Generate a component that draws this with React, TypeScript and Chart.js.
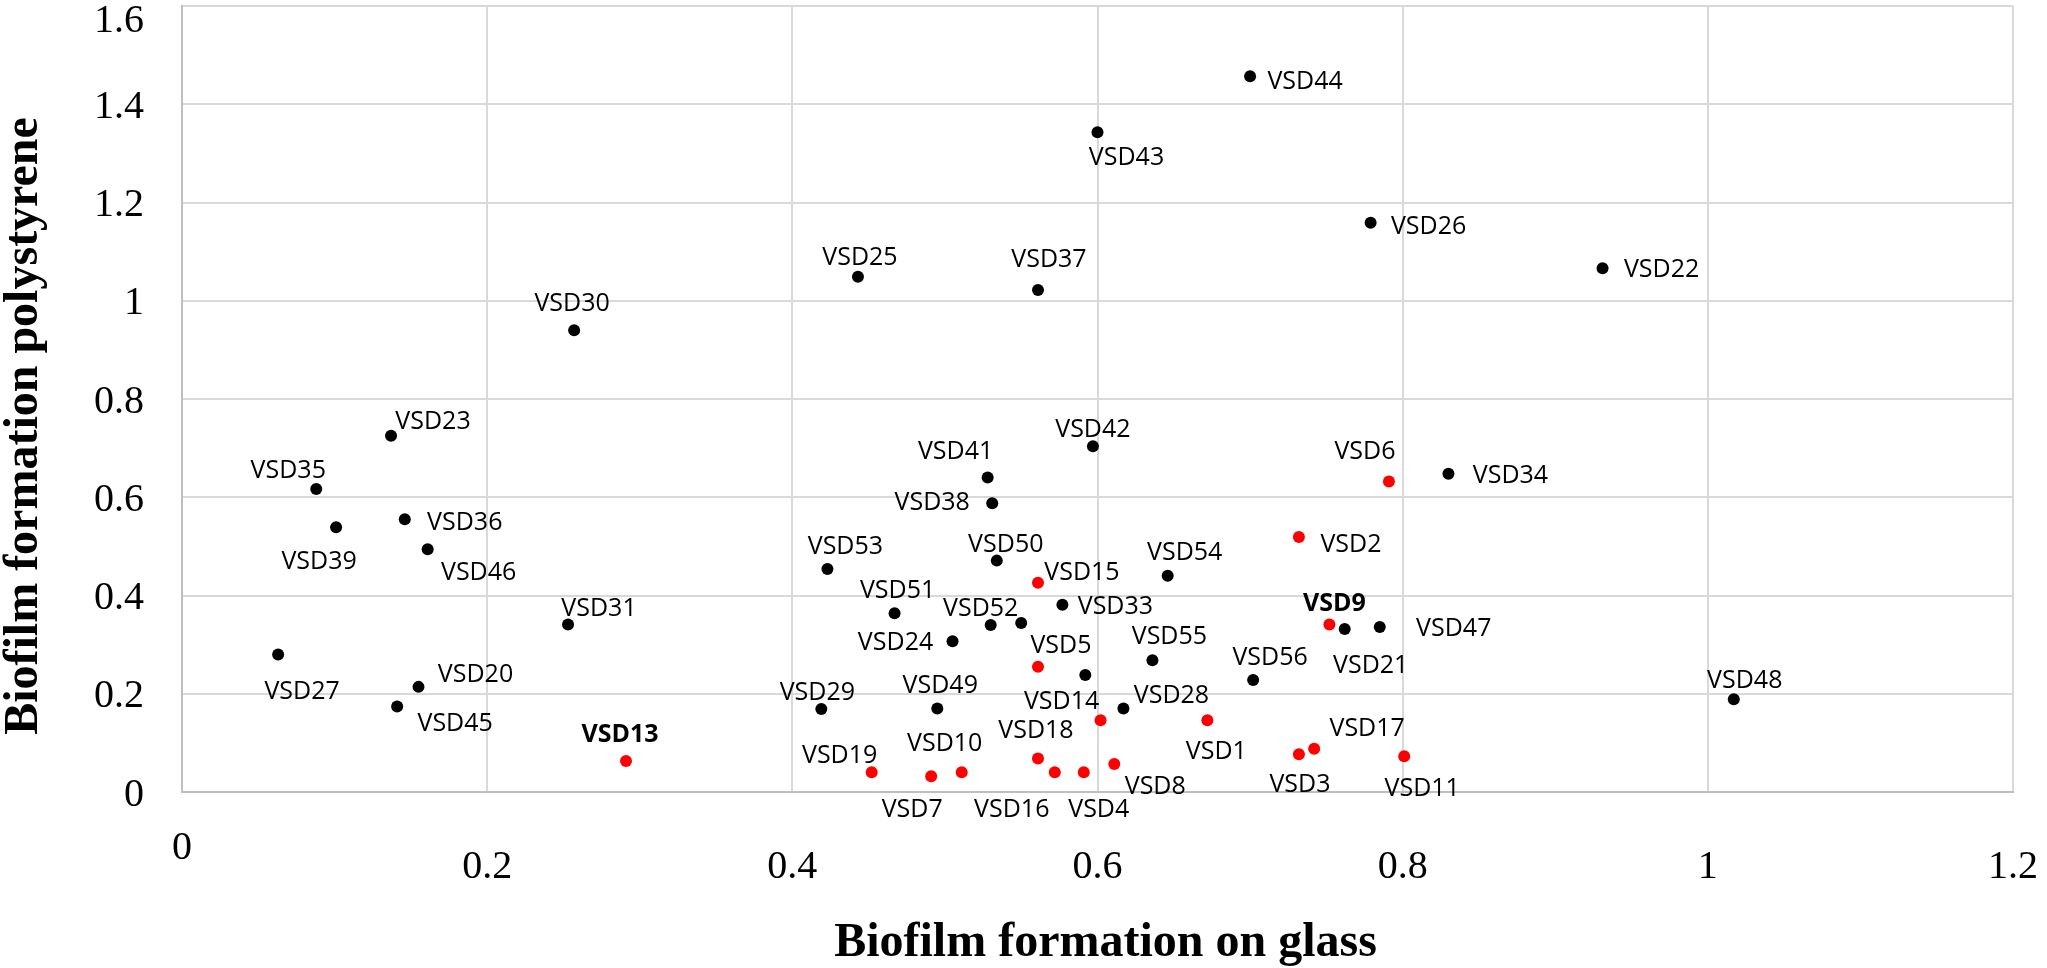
import { useEffect, useRef } from 'react';
import { Chart, registerables } from 'chart.js';
import type { Plugin } from 'chart.js';

Chart.register(...registerables);

const xTickLabels = ['0', '0.2', '0.4', '0.6', '0.8', '1', '1.2'];
const yTickLabels = ['0', '0.2', '0.4', '0.6', '0.8', '1', '1.2', '1.4', '1.6'];

// VSD1 - VSD19, shown in red
const redStrains = [
  'VSD1', 'VSD2', 'VSD3', 'VSD4', 'VSD5', 'VSD6', 'VSD7', 'VSD8', 'VSD9',
  'VSD10', 'VSD11', 'VSD13', 'VSD14', 'VSD15', 'VSD16', 'VSD17', 'VSD18', 'VSD19',
];
const redGlass = [
  0.672, 0.732, 0.732, 0.591, 0.561, 0.791, 0.491, 0.611, 0.752,
  0.511, 0.801, 0.291, 0.602, 0.561, 0.572, 0.742, 0.561, 0.452,
];
const redPolystyrene = [
  0.146, 0.519, 0.077, 0.04, 0.255, 0.632, 0.032, 0.057, 0.341,
  0.04, 0.073, 0.063, 0.146, 0.426, 0.04, 0.088, 0.068, 0.04,
];

// the other isolates, in black (two dots carry no label in the figure)
const blackStrains = [
  'VSD20', 'VSD21', 'VSD22', 'VSD23', 'VSD24', 'VSD25', 'VSD26', 'VSD27', 'VSD28',
  'VSD29', 'VSD30', 'VSD31', 'VSD33', 'VSD34', 'VSD35', 'VSD36', 'VSD37', 'VSD38',
  'VSD39', 'VSD41', 'VSD42', 'VSD43', 'VSD44', 'VSD45', 'VSD46', 'VSD47', 'VSD48',
  'VSD49', 'VSD50', 'VSD51', 'VSD52', 'VSD53', 'VSD54', 'VSD55', 'VSD56', '', '',
];
const blackGlass = [
  0.155, 0.762, 0.931, 0.137, 0.505, 0.443, 0.779, 0.063, 0.617,
  0.419, 0.257, 0.253, 0.577, 0.83, 0.088, 0.146, 0.561, 0.531,
  0.101, 0.528, 0.597, 0.6, 0.7, 0.141, 0.161, 0.785, 1.017,
  0.495, 0.534, 0.467, 0.53, 0.423, 0.646, 0.636, 0.702, 0.55, 0.592,
];
const blackPolystyrene = [
  0.214, 0.332, 1.066, 0.725, 0.307, 1.049, 1.159, 0.28, 0.17,
  0.169, 0.94, 0.341, 0.381, 0.648, 0.617, 0.555, 1.022, 0.588,
  0.539, 0.64, 0.704, 1.343, 1.457, 0.174, 0.494, 0.336, 0.189,
  0.17, 0.471, 0.364, 0.34, 0.454, 0.44, 0.268, 0.228, 0.344, 0.238,
];

// where each label sits relative to its dot (px), as in the figure
const redLabelShift = [
  [9, 30], [52, 6], [1, 29], [15, 36], [23, -23], [-24, -32], [-19, 32], [41, 21], [5, -22],
  [-17, -30], [18, 31], [-6, -28], [-39, -20], [44, -12], [-43, 36], [53, -22], [-2, -30], [-32, -18],
];
const blackLabelShift = [
  [57, -14], [26, 35], [59, 0], [42, -16], [-57, 0], [2, -21], [58, 2], [24, 36], [48, -14],
  [-4, -18], [-2, -28], [31, -17], [53, 0], [62, 0], [-28, -20], [60, 2], [11, -32], [-60, -2],
  [-17, 33], [-32, -28], [0, -18], [29, 24], [55, 4], [58, 15], [51, 22], [74, 0], [11, -20],
  [3, -24], [9, -18], [3, -24], [-10, -18], [18, -24], [17, -25], [17, -25], [17, -24], [0, 0], [0, 0],
];

const boldStrains = ['VSD9', 'VSD13'];

const labelGroups = [
  { names: redStrains, shifts: redLabelShift },
  { names: blackStrains, shifts: blackLabelShift },
];

const decorations: Plugin<'scatter'> = {
  id: 'decorations',
  afterDatasetsDraw(chart) {
    const { ctx, chartArea, scales } = chart;
    const xs = scales.x;
    const ys = scales.y;
    ctx.save();
    ctx.fillStyle = '#000';

    // strain labels
    ctx.textAlign = 'center';
    ctx.textBaseline = 'alphabetic';
    chart.data.datasets.forEach((_, i) => {
      const { names, shifts } = labelGroups[i];
      chart.getDatasetMeta(i).data.forEach((pt, j) => {
        const name = names[j];
        if (!name) return;
        ctx.font = `${boldStrains.includes(name) ? 'bold ' : ''}25px "Open Sans"`;
        ctx.fillText(name, pt.x + shifts[j][0], pt.y + shifts[j][1] + 9);
      });
    });

    // tick labels
    ctx.font = '40px "Liberation Serif"';
    ctx.textAlign = 'right';
    ctx.textBaseline = 'middle';
    yTickLabels.forEach((t) => {
      const py = ys.getPixelForValue(parseFloat(t));
      ctx.fillText(t, chartArea.left - 38, Math.max(py + 3, chartArea.top + 15));
    });
    ctx.textAlign = 'center';
    xTickLabels.forEach((t) => {
      const v = parseFloat(t);
      ctx.fillText(t, xs.getPixelForValue(v), chartArea.bottom + (v === 0 ? 56 : 75));
    });

    // axis titles
    ctx.font = 'bold 48px "Liberation Serif"';
    ctx.textBaseline = 'alphabetic';
    ctx.fillText('Biofilm formation on glass', (chartArea.left + chartArea.right) / 2 + 8, chartArea.bottom + 164);
    ctx.translate(37, (chartArea.top + chartArea.bottom) / 2 + 27);
    ctx.rotate(-Math.PI / 2);
    ctx.fillText('Biofilm formation polystyrene', 0, 0);
    ctx.restore();
  },
};

export default function App() {
  const chartRef = useRef<HTMLCanvasElement>(null);

  useEffect(() => {
    if (!chartRef.current) return;
    const chart = new Chart(chartRef.current, {
      type: 'scatter',
      data: {
        datasets: [
          {
            label: 'VSD1-VSD19',
            data: redGlass.map((x, i) => ({ x, y: redPolystyrene[i] })),
            backgroundColor: '#ff0000',
            borderWidth: 0,
            pointRadius: 6,
          },
          {
            label: 'Other isolates',
            data: blackGlass.map((x, i) => ({ x, y: blackPolystyrene[i] })),
            backgroundColor: '#000000',
            borderWidth: 0,
            pointRadius: 6,
          },
        ],
      },
      options: {
        animation: false,
        responsive: true,
        maintainAspectRatio: false,
        layout: { padding: { top: 2, right: 34, left: 0, bottom: 0 } },
        plugins: {
          legend: { display: false },
          tooltip: { enabled: false },
        },
        scales: {
          x: {
            type: 'linear',
            min: 0,
            max: 1.2,
            ticks: { display: false, stepSize: 0.2 },
            grid: { color: '#d9d9d9', lineWidth: 2, drawTicks: false },
            border: { color: '#bfbfbf', width: 2 },
            afterFit: (s: any) => {
              s.height = 176;
              s.paddingLeft = 0;
              s.paddingRight = 0;
            },
          },
          y: {
            type: 'linear',
            min: 0,
            max: 1.6,
            ticks: { display: false, stepSize: 0.2 },
            grid: { color: '#d9d9d9', lineWidth: 2, drawTicks: false },
            border: { color: '#bfbfbf', width: 2 },
            afterFit: (s: any) => {
              s.width = 182;
              s.paddingTop = 0;
              s.paddingBottom = 0;
            },
          },
        },
      },
      plugins: [decorations],
    });

    return () => {
      chart.destroy();
    };
  }, []);

  return (
    <div style={{ position: 'fixed', left: 0, top: 0, width: 2047, height: 968, background: '#fff' }}>
      <canvas ref={chartRef} />
    </div>
  );
}
